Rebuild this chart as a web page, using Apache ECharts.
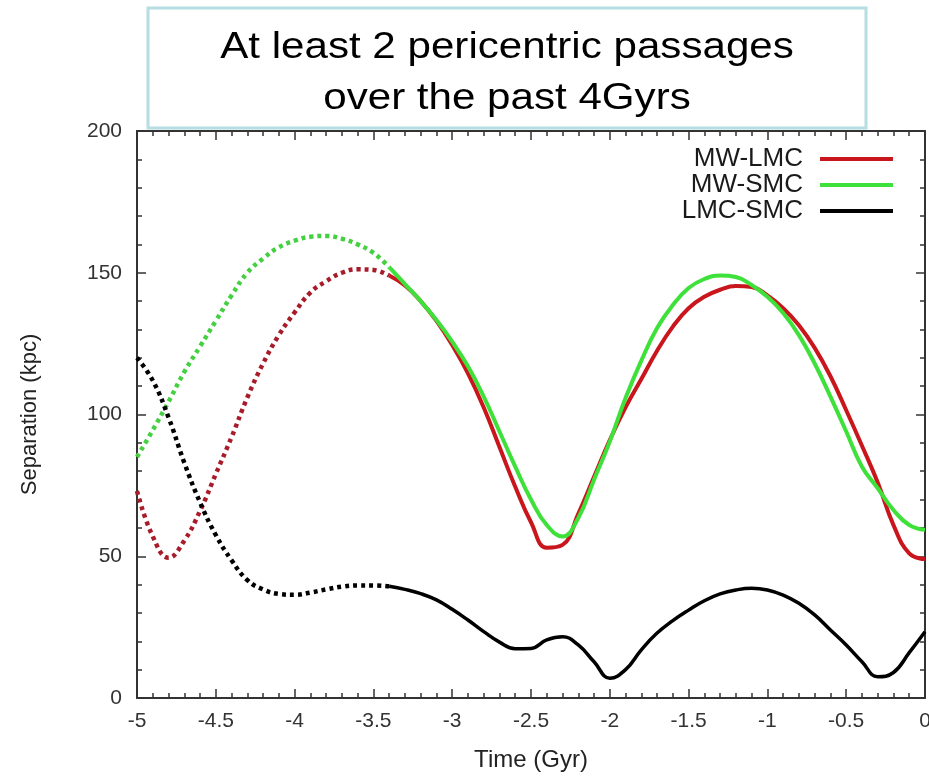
<!DOCTYPE html>
<html>
<head>
<meta charset="utf-8">
<title>MW-LMC-SMC separation</title>
<script src="https://cdn.jsdelivr.net/npm/echarts@6/dist/echarts.min.js"></script>
<style>
html, body { margin: 0; padding: 0; background: #fff; overflow: hidden; }
#chart { width: 929px; height: 779px; }
</style>
</head>
<body>
<div id="chart"></div>
<script>
// time in Gyr, every 0.1 from -5 to 0
var times = [-5.0, -4.9, -4.8, -4.7, -4.6, -4.5, -4.4, -4.3, -4.2, -4.1,
	-4.0, -3.9, -3.8, -3.7, -3.6, -3.5, -3.4, -3.3, -3.2, -3.1,
	-3.0, -2.9, -2.8, -2.7, -2.6, -2.5, -2.4, -2.3, -2.2, -2.1,
	-2.0, -1.9, -1.8, -1.7, -1.6, -1.5, -1.4, -1.3, -1.2, -1.1,
	-1.0, -0.9, -0.8, -0.7, -0.6, -0.5, -0.4, -0.3, -0.2, -0.1, 0.0];
var mwLmc = [73, 57, 49.5, 55.5, 66, 79, 92, 106, 118, 128,
	136, 143, 147, 150, 151.2, 151, 149, 145.5, 140, 133,
	124.5, 114.5, 102.5, 88.5, 74.5, 62, 53, 54, 65, 78,
	91, 102.5, 112.5, 122.5, 131, 137.5, 141.5, 144, 145.3, 145,
	142, 137.5, 131.5, 123.5, 113.5, 101.5, 89, 76, 61, 51, 49];
var mwSmc = [85, 94.5, 104.5, 115, 124, 133, 142, 150, 155, 159,
	161.3, 162.7, 163, 162, 160, 157, 152, 146, 140, 133.3,
	125.7, 117, 106.3, 94, 81.6, 70, 61, 57, 63.5, 77,
	90.5, 105.8, 119, 130.5, 138.6, 144.6, 147.8, 149, 148.5, 145.7,
	141.5, 135.8, 128, 118, 106.3, 94, 81.6, 74, 66.3, 61, 59.3];
var lmcSmc = [120, 112, 99, 83, 69, 57.5, 48.6, 41.6, 38.3, 36.7,
	36.4, 37.2, 38.3, 39.3, 39.7, 39.7, 39.4, 38.3, 36.8, 34.6,
	31.3, 27.5, 23.4, 19.7, 17.4, 17.5, 20.5, 21.6, 18.7, 12.8,
	7, 10, 17, 22.9, 27.3, 31, 34.3, 36.7, 38.1, 38.7,
	38.1, 36.3, 33.4, 29.3, 24, 18.7, 12.8, 7.5, 9, 16, 23.4];
var splitTime = -3.4; // dotted before, solid after
var xTicks = [-5, -4.5, -4, -3.5, -3, -2.5, -2, -1.5, -1, -0.5, 0];
var yTicks = [0, 50, 100, 150, 200];

var redColor = '#c9161c';
var redDotColor = '#a81c2a';
var greenColor = '#3ee03a';
var greenDotColor = '#44d040';
var blackColor = '#000000';

function part(vals, early) {
	var out = [];
	for(var i = 0; i < times.length; i++) {
		if(early ? times[i] <= splitTime + 1e-9 : times[i] >= splitTime - 1e-9) {
			out.push([times[i], vals[i]]);
		}
	}
	return out;
}

function lineSeries(name, vals, color, width, dotted) {
	return {
		name: dotted ? name + ' ' : name,
		type: 'line',
		data: part(vals, dotted),
		smooth: 0.45,
		showSymbol: false,
		symbol: 'none',
		silent: true,
		lineStyle: {
			color: color,
			width: width,
			type: dotted ? [4, 4] : 'solid',
			cap: 'butt'
		},
		itemStyle: { color: color },
		z: dotted ? 2 : 3
	};
}

function axisBase() {
	return {
		axisLine: { show: true, onZero: false, lineStyle: { color: '#333', width: 2 } },
		axisTick: { show: true, inside: true, length: 9, lineStyle: { color: '#333', width: 1.5 } },
		minorTick: { show: true, splitNumber: 5, length: 5, lineStyle: { color: '#333', width: 1.5 } },
		splitLine: { show: false }
	};
}

var chart = echarts.init(document.getElementById('chart'));
var option = {
	animation: false,
	backgroundColor: '#ffffff',
	grid: { left: 137, right: 4, top: 131, bottom: 81, containLabel: false, outerBoundsMode: 'none' },
	legend: {
		data: ['MW-LMC', 'MW-SMC', 'LMC-SMC'],
		orient: 'vertical',
		right: 31,
		top: 141,
		align: 'right',
		icon: 'rect',
		itemWidth: 73,
		itemHeight: 4,
		itemGap: 0,
		selectedMode: false,
		textStyle: {
			fontFamily: 'Liberation Sans',
			fontSize: 26,
			lineHeight: 26,
			color: '#1a1a1a',
			padding: [0, 12, 0, 0]
		}
	},
	xAxis: [
		Object.assign(axisBase(), {
			type: 'value', min: -5, max: 0, interval: 0.5,
			name: 'Time (Gyr)', nameLocation: 'middle', nameGap: 50,
			nameTextStyle: { fontFamily: 'Liberation Sans', fontSize: 24, color: '#222' },
			axisLabel: {
				margin: 13, fontFamily: 'Liberation Sans', fontSize: 21, color: '#333',
				formatter: function(v) { return xTicks.indexOf(v) >= 0 ? String(v) : ''; }
			}
		}),
		Object.assign(axisBase(), {
			type: 'value', min: -5, max: 0, interval: 0.5, position: 'top',
			axisLabel: { show: false }
		})
	],
	yAxis: [
		Object.assign(axisBase(), {
			type: 'value', min: 0, max: 200, interval: 50,
			name: 'Separation (kpc)', nameLocation: 'middle', nameGap: 96,
			nameTextStyle: { fontFamily: 'Liberation Sans', fontSize: 22, color: '#222' },
			axisLabel: {
				margin: 15, fontFamily: 'Liberation Sans', fontSize: 21, color: '#333',
				formatter: function(v) { return yTicks.indexOf(v) >= 0 ? String(v) : ''; }
			}
		}),
		Object.assign(axisBase(), {
			type: 'value', min: 0, max: 200, interval: 50, position: 'right',
			axisLabel: { show: false }
		})
	],
	series: [
		lineSeries('MW-LMC', mwLmc, redDotColor, 4.5, true),
		lineSeries('MW-SMC', mwSmc, greenDotColor, 4.5, true),
		lineSeries('LMC-SMC', lmcSmc, blackColor, 4.5, true),
		lineSeries('MW-LMC', mwLmc, redColor, 4, false),
		lineSeries('MW-SMC', mwSmc, greenColor, 4, false),
		lineSeries('LMC-SMC', lmcSmc, blackColor, 3.5, false)
	],
	graphic: [
		{
			type: 'rect',
			shape: { x: 148, y: 8, width: 718, height: 120 },
			style: { fill: '#ffffff', stroke: '#b5dde2', lineWidth: 3 },
			z: 10
		},
		{
			type: 'text',
			x: 507, y: 48, scaleX: 1.17,
			style: {
				text: 'At least 2 pericentric passages',
				fontFamily: 'Liberation Sans', fontSize: 36, fill: '#000',
				align: 'center', verticalAlign: 'middle'
			},
			z: 11
		},
		{
			type: 'text',
			x: 507, y: 99, scaleX: 1.17,
			style: {
				text: 'over the past 4Gyrs',
				fontFamily: 'Liberation Sans', fontSize: 36, fill: '#000',
				align: 'center', verticalAlign: 'middle'
			},
			z: 11
		}
	]
};
chart.setOption(option);
</script>
</body>
</html>
